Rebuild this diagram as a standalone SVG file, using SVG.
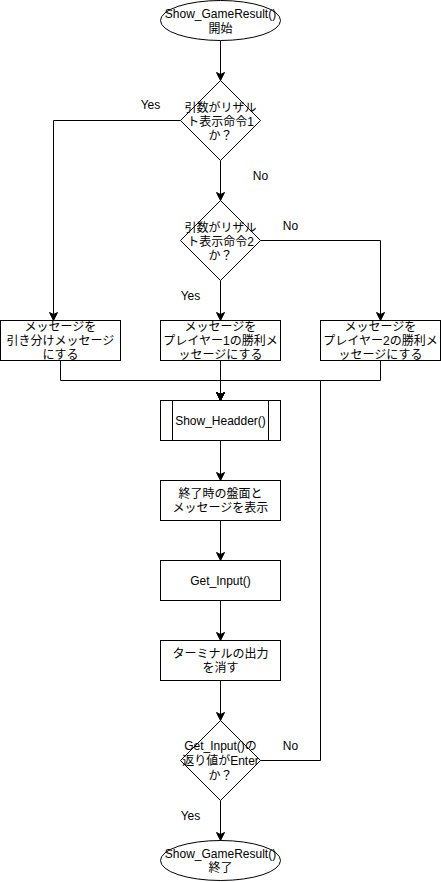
<svg xmlns="http://www.w3.org/2000/svg" width="441" height="882" viewBox="0 0 441 882">
<defs>
<style>
.s{fill:#fff;stroke:#000;stroke-width:1}
.c{fill:none;stroke:#000;stroke-width:1}
text{font-family:"Liberation Sans","Noto Sans CJK JP",sans-serif;font-size:12px;fill:#000;text-anchor:middle}
</style>
<marker id="a" markerUnits="userSpaceOnUse" markerWidth="12" markerHeight="12" viewBox="-10 -6 12 12" refX="0" refY="0" orient="auto">
<path d="M0,0 L-8,-4 L-6,0 L-8,4 Z" fill="#000" stroke="#000" stroke-width="1"/>
</marker>
</defs>
<g transform="translate(0.5,0.5)">
<g id="connectors">
<path class="c" d="M220,40 V80" marker-end="url(#a)"/>
<path class="c" d="M180,120 H53 V320" marker-end="url(#a)"/>
<path class="c" d="M220,160 V200" marker-end="url(#a)"/>
<path class="c" d="M260,240 H380 V320" marker-end="url(#a)"/>
<path class="c" d="M220,280 V320" marker-end="url(#a)"/>
<path class="c" d="M60,360 V380 H220 V400" marker-end="url(#a)"/>
<path class="c" d="M220,360 V400" marker-end="url(#a)"/>
<path class="c" d="M380,360 V380 H220 V400" marker-end="url(#a)"/>
<path class="c" d="M260,760 H320 V380 H220 V400" marker-end="url(#a)"/>
<path class="c" d="M220,440 V480" marker-end="url(#a)"/>
<path class="c" d="M220,520 V560" marker-end="url(#a)"/>
<path class="c" d="M220,600 V640" marker-end="url(#a)"/>
<path class="c" d="M220,680 V720" marker-end="url(#a)"/>
<path class="c" d="M220,800 V840" marker-end="url(#a)"/>
<text x="150" y="108">Yes</text>
<text x="260" y="179">No</text>
<text x="290" y="229">No</text>
<text x="190" y="299">Yes</text>
<text x="290" y="749">No</text>
<text x="190" y="819">Yes</text>
</g>
<g id="start">
<ellipse class="s" cx="220" cy="20" rx="60" ry="20"/>
<text x="220" y="17">Show_GameResult()</text>
<text x="220" y="32">開始</text>
</g>
<g id="decision1">
<path class="s" d="M220,80 L260,120 L220,160 L180,120 Z"/>
<text x="220" y="111">引数がリザル</text>
<text x="220" y="125">ト表示命令1</text>
<text x="220" y="139">か？</text>
</g>
<g id="decision2">
<path class="s" d="M220,200 L260,240 L220,280 L180,240 Z"/>
<text x="220" y="231">引数がリザル</text>
<text x="220" y="245">ト表示命令2</text>
<text x="220" y="259">か？</text>
</g>
<g id="draw">
<rect class="s" x="0" y="320" width="120" height="40"/>
<text x="60" y="330">メッセージを</text>
<text x="60" y="344">引き分けメッセージ</text>
<text x="60" y="358">にする</text>
</g>
<g id="p1win">
<rect class="s" x="160" y="320" width="120" height="40"/>
<text x="220" y="330">メッセージを</text>
<text x="220" y="344">プレイヤー1の勝利メ</text>
<text x="220" y="358">ッセージにする</text>
</g>
<g id="p2win">
<rect class="s" x="320" y="320" width="120" height="40"/>
<text x="380" y="330">メッセージを</text>
<text x="380" y="344">プレイヤー2の勝利メ</text>
<text x="380" y="358">ッセージにする</text>
</g>
<g id="header">
<rect class="s" x="160" y="400" width="120" height="40"/>
<path class="c" d="M172,400 V440 M268,400 V440"/>
<text x="220" y="424">Show_Headder()</text>
</g>
<g id="show">
<rect class="s" x="160" y="480" width="120" height="40"/>
<text x="220" y="497">終了時の盤面と</text>
<text x="220" y="511">メッセージを表示</text>
</g>
<g id="input">
<rect class="s" x="160" y="560" width="120" height="40"/>
<text x="220" y="584">Get_Input()</text>
</g>
<g id="clear">
<rect class="s" x="160" y="640" width="120" height="40"/>
<text x="220" y="657">ターミナルの出力</text>
<text x="220" y="671">を消す</text>
</g>
<g id="decision3">
<path class="s" d="M220,720 L260,760 L220,800 L180,760 Z"/>
<text x="220" y="749">Get_Input()の</text>
<text x="220" y="764">返り値がEnter</text>
<text x="220" y="779">か？</text>
</g>
<g id="end">
<ellipse class="s" cx="220" cy="860" rx="60" ry="20"/>
<text x="220" y="857">Show_GameResult()</text>
<text x="220" y="871">終了</text>
</g>
</g>
</svg>
